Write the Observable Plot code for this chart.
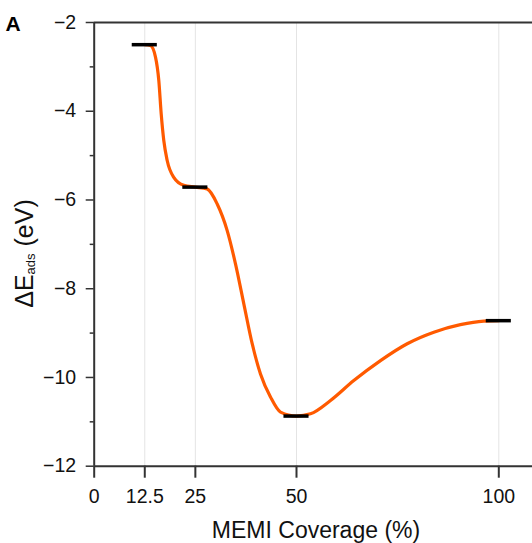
<!DOCTYPE html>
<html><head><meta charset="utf-8">
<script src="https://cdn.jsdelivr.net/npm/d3@7"></script>
<script src="https://cdn.jsdelivr.net/npm/@observablehq/plot@0.6"></script>
<style>body{margin:0;background:#fff} svg{display:block}</style>
</head><body><div id="chart"></div>
<script>
// Computed adsorption energies (black bars)
const coverage = [12.5, 25, 50, 100];
const energy = [-2.50, -5.71, -10.87, -8.72];
// Orange guide curve
const curveX = [12.5, 13.9, 15.15, 15.97, 16.56, 17.2, 18.04, 19.67, 22.15, 25,
  27.9, 30.4, 32.87, 34.92, 36.98, 39.05, 41.1, 43.57, 46.05, 50,
  53.46, 58.4, 64.16, 70.76, 77.36, 83.94, 90.5, 96.3, 100];
const curveY = [-2.50, -2.52, -2.78, -3.31, -4.06, -4.66, -5.11, -5.49, -5.67, -5.71,
  -5.75, -6.09, -6.69, -7.44, -8.34, -9.24, -9.92, -10.44, -10.78, -10.87,
  -10.82, -10.52, -10.07, -9.62, -9.24, -8.98, -8.81, -8.73, -8.72];
const xTicks = [0, 12.5, 25, 50, 100];
const gridX = [12.5, 25, 50, 100];
const yTicks = [-2, -4, -6, -8, -10, -12];
const yMinorTicks = [-3, -5, -7, -9, -11];

const curve = curveX.map((x, i) => ({x, y: curveY[i]}));
const points = coverage.map((c, i) => ({c, e: energy[i]}));
const halfBar = 3.1;
const axisColor = "#333";

const chart = Plot.plot({
  width: 532,
  height: 543,
  marginLeft: 93.7,
  marginRight: 0,
  marginTop: 22,
  marginBottom: 77.3,
  style: {fontFamily: "'Liberation Sans', Arial, sans-serif", color: "#111", background: "#fff"},
  x: {domain: [0, 108.33]},
  y: {domain: [-12, -2]},
  marks: [
    Plot.ruleX(gridX, {stroke: "#e4e4e4", strokeWidth: 1}),
    Plot.line(curve, {x: "x", y: "y", curve: "monotone-x", stroke: "#ff5a00", strokeWidth: 3.2}),
    Plot.ruleY(points, {y: "e", x1: d => d.c - halfBar, x2: d => d.c + halfBar, stroke: "#000", strokeWidth: 3.5}),
    Plot.ruleY([-2, -12], {stroke: axisColor, strokeWidth: 2}),
    Plot.ruleX([0], {y1: -12, y2: -2, stroke: axisColor, strokeWidth: 2}),
    Plot.axisX(xTicks, {tickSize: 12, tickPadding: 11, fontSize: 19.5, stroke: axisColor, strokeWidth: 2, tickFormat: d => String(d), label: null}),
    Plot.axisY(yTicks, {tickSize: 8, tickPadding: 10, fontSize: 19.5, stroke: axisColor, strokeWidth: 1.5, label: null}),
    Plot.axisY(yMinorTicks, {tickSize: 4, tickFormat: () => "", stroke: axisColor, strokeWidth: 1.5, label: null})
  ]
});

const svg = d3.select(chart);
svg.append("text")
  .attr("x", 316).attr("y", 538)
  .attr("text-anchor", "middle")
  .attr("font-size", 23)
  .attr("fill", "#111")
  .text("MEMI Coverage (%)");

const yl = svg.append("text")
  .attr("transform", "translate(32.5,253.5) rotate(-90)")
  .attr("text-anchor", "middle")
  .attr("font-size", 25)
  .attr("fill", "#111");
yl.append("tspan").text("ΔE");
yl.append("tspan").attr("font-size", 13).attr("dy", 2).text("ads");
yl.append("tspan").attr("dy", -2).text(" (eV)");

svg.append("text")
  .attr("x", 13).attr("y", 31)
  .attr("font-size", 21)
  .attr("font-weight", "bold")
  .attr("fill", "#000")
  .text("A");

document.getElementById("chart").appendChild(chart);
</script>
</body></html>
